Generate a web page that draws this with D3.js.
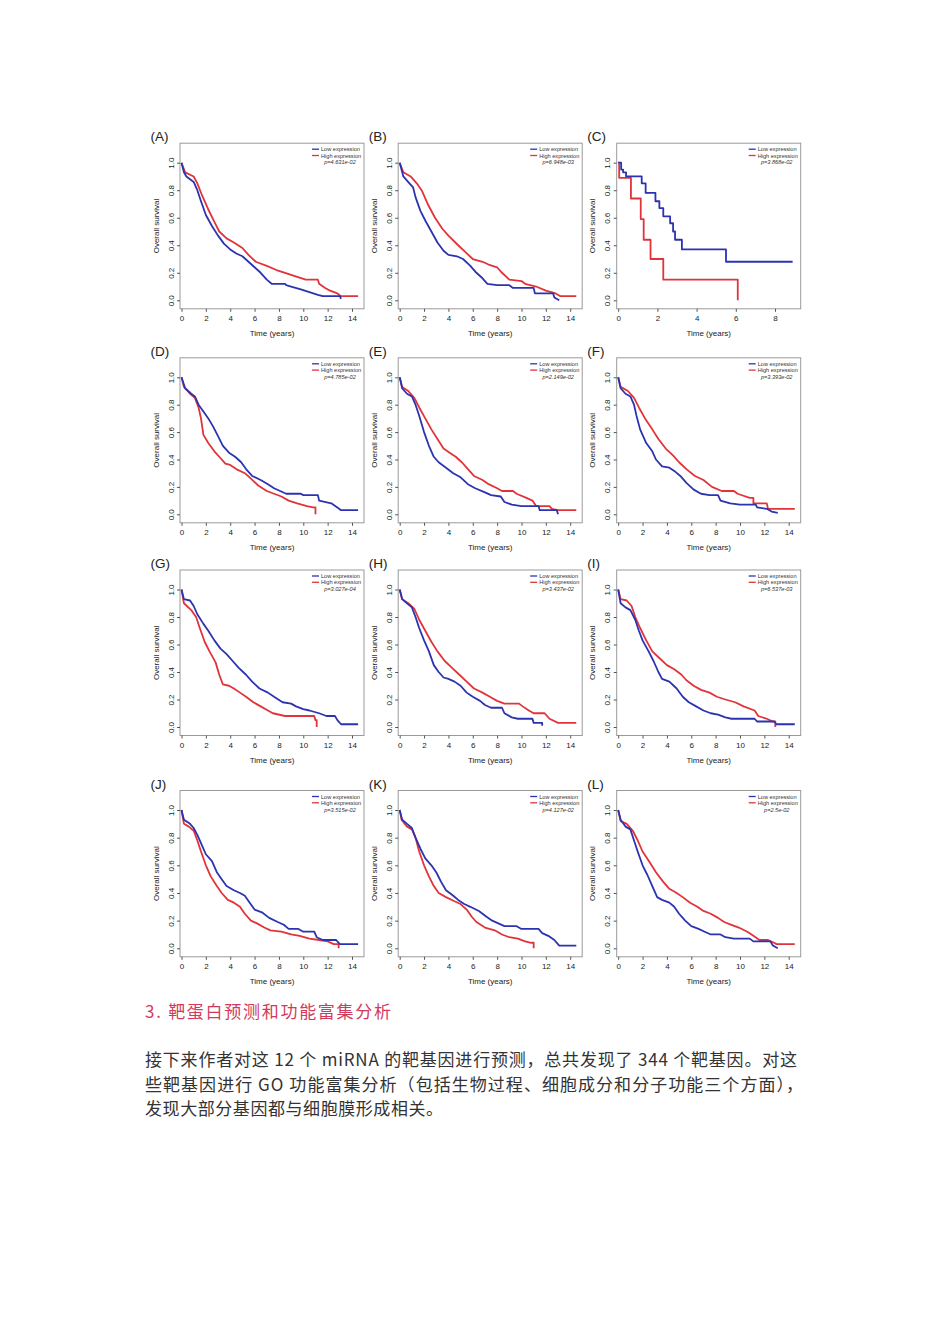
<!DOCTYPE html>
<html>
<head>
<meta charset="utf-8">
<script src="https://cdn.jsdelivr.net/npm/d3@7"></script>
<style>
  html, body { margin: 0; padding: 0; background: #fff; }
  svg { display: block; }
</style>
</head>
<body>
<svg id="chart" width="950" height="1344"></svg>
<script>
// ---------- DATA ----------
// Dense panels: vertices [time in years, survival].
// Panel C: step points [time, survival from that time].
const panelIds = ["A","B","C","D","E","F","G","H","I","J","K","L"];
const pValues = ["p=4.631e-02","p=6.948e-03","p=3.868e-02","p=4.785e-02","p=2.149e-02","p=3.393e-02",
                 "p=3.027e-04","p=3.437e-02","p=6.537e-03","p=3.515e-02","p=4.127e-02","p=2.5e-02"];
const xMaxYears = [14,14,8,14,14,14,14,14,14,14,14,14];
const stepPanels = ["C"];
const xTicks14 = [0,2,4,6,8,10,12,14];
const xTicks8 = [0,2,4,6,8];
const yTicks = [0.0,0.2,0.4,0.6,0.8,1.0];
const legendLabels = ["Low expression","High expression"];

const A_low  = [[0,1],[0.2,0.93],[0.4,0.9],[1,0.86],[1.3,0.8],[1.6,0.72],[2,0.62],[2.5,0.54],[3,0.47],[3.5,0.41],[4,0.37],[4.5,0.34],[5,0.32],[5.5,0.28],[6,0.24],[6.5,0.2],[7,0.15],[7.4,0.12],[8.5,0.12],[8.6,0.11],[9,0.1],[9.8,0.08],[10.5,0.06],[11.2,0.04],[11.6,0.03],[13,0.03],[13.1,0.01]];
const A_high = [[0,1],[0.3,0.93],[1,0.9],[1.3,0.85],[1.7,0.76],[2.2,0.66],[2.7,0.57],[3.1,0.5],[3.7,0.45],[4.3,0.42],[5,0.38],[5.5,0.33],[6.1,0.28],[7,0.25],[7.8,0.22],[8.5,0.2],[9.5,0.17],[10.2,0.15],[11.2,0.15],[11.3,0.12],[11.8,0.09],[12.2,0.07],[12.8,0.05],[13.1,0.03],[14.5,0.03]];

const B_low  = [[0,1],[0.3,0.9],[0.8,0.85],[1.1,0.82],[1.3,0.75],[1.7,0.65],[2.1,0.58],[2.6,0.5],[3.1,0.42],[3.6,0.36],[4,0.33],[4.7,0.32],[5.2,0.3],[5.8,0.25],[6.3,0.2],[6.8,0.16],[7.2,0.12],[8,0.11],[9,0.11],[9.3,0.09],[11,0.09],[11.1,0.05],[12.6,0.05],[12.7,0.02],[13.1,0.0]];
const B_high = [[0,1],[0.3,0.93],[0.9,0.9],[1.4,0.85],[1.8,0.8],[2.3,0.7],[2.9,0.6],[3.5,0.52],[4,0.47],[4.8,0.4],[5.4,0.35],[6,0.3],[6.8,0.28],[7.3,0.26],[8,0.24],[8.4,0.2],[9,0.15],[10,0.14],[10.3,0.12],[11.2,0.1],[12,0.07],[12.8,0.05],[13.2,0.03],[14.5,0.03]];

const C_low  = [[0,1],[0.15,0.95],[0.25,0.93],[0.4,0.9],[1.2,0.85],[1.4,0.78],[1.9,0.72],[2.1,0.67],[2.3,0.61],[2.65,0.56],[2.8,0.5],[2.9,0.44],[3.25,0.37],[5.5,0.28],[8.9,0.28]];
const C_high = [[0,1],[0.05,0.89],[0.65,0.74],[1.15,0.59],[1.3,0.44],[1.65,0.3],[2.3,0.15],[6.1,0.0]];

const D_low  = [[0,1],[0.3,0.92],[0.8,0.88],[1.1,0.86],[1.4,0.8],[1.8,0.75],[2.2,0.7],[2.6,0.64],[3,0.57],[3.4,0.5],[3.9,0.45],[4.4,0.42],[4.9,0.38],[5.3,0.33],[5.8,0.28],[6.5,0.25],[7.1,0.22],[7.6,0.19],[8.1,0.17],[8.6,0.15],[9.8,0.15],[10,0.14],[11.2,0.14],[11.3,0.1],[12.3,0.08],[12.8,0.05],[13.1,0.03],[14.5,0.03]];
const D_high = [[0,1],[0.2,0.93],[0.7,0.88],[1.1,0.85],[1.4,0.78],[1.6,0.7],[1.8,0.58],[2.2,0.52],[2.7,0.46],[3.1,0.42],[3.6,0.37],[4,0.36],[4.5,0.33],[5.2,0.3],[5.7,0.26],[6.3,0.21],[7,0.17],[7.6,0.15],[8.2,0.13],[8.8,0.1],[9.5,0.08],[10.3,0.06],[10.8,0.05],[11,0.05],[11,0.0]];

const E_low  = [[0,1],[0.2,0.92],[0.6,0.88],[1,0.86],[1.3,0.8],[1.6,0.72],[2,0.6],[2.4,0.5],[2.8,0.42],[3.2,0.38],[3.8,0.34],[4.4,0.3],[5,0.27],[5.6,0.22],[6.2,0.19],[7,0.16],[7.5,0.14],[8.3,0.13],[8.6,0.09],[9.2,0.07],[10,0.06],[11.4,0.06],[11.5,0.03],[12.9,0.03],[13,0.0]];
const E_high = [[0,1],[0.2,0.93],[0.7,0.9],[1.2,0.85],[1.6,0.78],[2.1,0.7],[2.6,0.62],[3.1,0.55],[3.6,0.48],[4.1,0.45],[4.6,0.42],[5.1,0.38],[5.6,0.33],[6.1,0.28],[6.8,0.25],[7.3,0.22],[8,0.19],[8.4,0.17],[9.3,0.17],[9.6,0.15],[10.4,0.12],[10.9,0.1],[11.2,0.06],[12.3,0.06],[12.5,0.04],[13,0.03],[14.5,0.03]];

const F_low  = [[0,1],[0.2,0.92],[0.6,0.88],[1,0.86],[1.3,0.8],[1.5,0.72],[1.8,0.62],[2.3,0.52],[2.8,0.46],[3.1,0.4],[3.6,0.35],[4.2,0.34],[4.7,0.31],[5.1,0.28],[5.6,0.23],[6.2,0.18],[6.8,0.15],[7.5,0.14],[8.2,0.14],[8.4,0.1],[9.2,0.08],[10,0.07],[11.3,0.07],[11.4,0.05],[12.2,0.04],[12.6,0.02],[13.1,0.01]];
const F_high = [[0,1],[0.2,0.93],[0.8,0.9],[1.3,0.85],[1.7,0.78],[2.2,0.7],[2.8,0.62],[3.3,0.55],[3.9,0.48],[4.5,0.43],[5,0.38],[5.6,0.33],[6.3,0.28],[7,0.25],[7.7,0.2],[8.5,0.17],[9.5,0.17],[9.8,0.15],[10.8,0.12],[11.1,0.12],[11.1,0.08],[12.2,0.08],[12.3,0.04],[14.5,0.04]];

const G_low  = [[0,1],[0.2,0.93],[0.7,0.92],[1,0.88],[1.3,0.82],[1.8,0.75],[2.2,0.7],[2.7,0.63],[3.2,0.57],[3.7,0.53],[4.2,0.48],[4.7,0.43],[5.3,0.38],[5.8,0.33],[6.4,0.28],[7.1,0.25],[7.6,0.22],[8.3,0.18],[9,0.17],[9.4,0.15],[10,0.13],[10.5,0.12],[11.3,0.1],[11.9,0.08],[12.6,0.08],[12.8,0.05],[13.1,0.02],[14.5,0.02]];
const G_high = [[0,1],[0.2,0.9],[0.8,0.85],[1.2,0.8],[1.5,0.72],[1.9,0.62],[2.3,0.55],[2.8,0.47],[3.1,0.38],[3.4,0.31],[3.9,0.3],[4.3,0.28],[4.8,0.25],[5.3,0.22],[5.9,0.18],[6.5,0.15],[7.1,0.12],[7.5,0.1],[8.5,0.08],[10.9,0.08],[11,0.05],[11.1,0.05],[11.1,0.0]];

const H_low  = [[0,1],[0.2,0.93],[0.6,0.9],[1,0.87],[1.3,0.8],[1.6,0.72],[2,0.63],[2.4,0.55],[2.8,0.45],[3.2,0.4],[3.6,0.36],[4,0.35],[4.5,0.33],[5,0.3],[5.5,0.25],[6,0.22],[6.6,0.19],[7,0.16],[7.5,0.14],[8.4,0.14],[8.6,0.1],[9.2,0.07],[9.7,0.06],[10.9,0.06],[11,0.03],[11.7,0.03],[11.7,0.01]];
const H_high = [[0,1],[0.2,0.93],[0.7,0.9],[1.2,0.86],[1.6,0.78],[2.1,0.7],[2.6,0.62],[3.1,0.55],[3.7,0.48],[4.3,0.43],[4.9,0.38],[5.5,0.33],[6.1,0.28],[6.8,0.25],[7.4,0.22],[8,0.19],[8.6,0.17],[9.8,0.17],[10.1,0.15],[10.6,0.12],[11,0.1],[11.9,0.1],[12.3,0.06],[13,0.03],[14.5,0.03]];

const I_low  = [[0,1],[0.2,0.9],[0.6,0.87],[1,0.85],[1.4,0.78],[1.7,0.7],[2,0.63],[2.5,0.55],[2.9,0.48],[3.3,0.4],[3.6,0.35],[4.2,0.33],[4.8,0.28],[5.3,0.22],[5.8,0.18],[6.4,0.15],[7,0.12],[7.6,0.1],[8.2,0.09],[8.8,0.07],[9.3,0.06],[11.2,0.06],[11.4,0.04],[12.8,0.04],[13,0.02],[14.5,0.02]];
const I_high = [[0,1],[0.2,0.93],[0.7,0.92],[1.1,0.88],[1.4,0.8],[1.8,0.72],[2.3,0.63],[2.8,0.55],[3.4,0.5],[4,0.45],[4.6,0.42],[5.2,0.38],[5.6,0.34],[6.2,0.3],[6.8,0.27],[7.5,0.25],[8.1,0.22],[8.8,0.2],[9.6,0.18],[10.3,0.15],[11.2,0.12],[11.5,0.08],[12.2,0.06],[12.7,0.04],[12.9,0.04],[12.9,0.0]];

const J_low  = [[0,1],[0.2,0.93],[0.7,0.9],[1,0.87],[1.3,0.82],[1.6,0.76],[2,0.68],[2.5,0.63],[2.9,0.55],[3.3,0.5],[3.7,0.45],[4.3,0.42],[4.8,0.4],[5.2,0.38],[5.6,0.33],[6,0.28],[6.6,0.26],[7.2,0.22],[7.9,0.19],[8.4,0.17],[8.8,0.14],[9.6,0.14],[10,0.12],[10.9,0.12],[11.1,0.08],[11.6,0.06],[12.7,0.06],[13,0.03],[14.5,0.03]];
const J_high = [[0,1],[0.2,0.9],[0.6,0.88],[1,0.85],[1.3,0.78],[1.6,0.7],[2,0.6],[2.4,0.52],[2.9,0.45],[3.3,0.4],[3.8,0.35],[4.3,0.33],[4.8,0.3],[5.2,0.25],[5.7,0.2],[6.2,0.18],[6.8,0.15],[7.3,0.13],[8.2,0.12],[9,0.1],[9.7,0.09],[10.5,0.07],[11.3,0.06],[12,0.05],[12.5,0.03],[12.9,0.03],[12.9,0.0]];

const K_low  = [[0,1],[0.2,0.93],[0.6,0.9],[1,0.87],[1.3,0.8],[1.7,0.72],[2.1,0.65],[2.6,0.6],[3,0.55],[3.4,0.48],[3.8,0.42],[4.4,0.38],[4.8,0.35],[5.3,0.32],[5.8,0.3],[6.5,0.27],[7.1,0.23],[7.6,0.2],[8.1,0.18],[8.6,0.16],[9.6,0.16],[10,0.14],[11.4,0.14],[11.7,0.11],[12.2,0.09],[12.7,0.06],[13.1,0.02],[14.5,0.02]];
const K_high = [[0,1],[0.15,0.93],[0.6,0.88],[1,0.86],[1.3,0.8],[1.6,0.7],[2,0.6],[2.4,0.52],[2.8,0.45],[3.2,0.4],[3.8,0.37],[4.5,0.34],[5,0.32],[5.5,0.28],[5.9,0.23],[6.3,0.19],[7,0.15],[7.8,0.13],[8.4,0.1],[9,0.08],[9.7,0.07],[10.3,0.05],[10.8,0.04],[11,0.04],[11,0.0]];

const L_low  = [[0,1],[0.2,0.93],[0.6,0.88],[1,0.86],[1.3,0.78],[1.6,0.7],[2,0.6],[2.4,0.53],[2.8,0.45],[3.2,0.37],[3.6,0.35],[4.2,0.33],[4.6,0.3],[5,0.25],[5.5,0.2],[6,0.16],[6.6,0.14],[7.1,0.12],[7.6,0.1],[8.4,0.1],[8.8,0.08],[9.5,0.07],[10.8,0.07],[11.1,0.05],[12.5,0.05],[12.7,0.02],[13.1,0.0]];
const L_high = [[0,1],[0.2,0.92],[0.7,0.9],[1.2,0.85],[1.6,0.78],[2,0.7],[2.6,0.62],[3.1,0.55],[3.7,0.48],[4.2,0.43],[4.8,0.4],[5.3,0.37],[5.9,0.33],[6.5,0.3],[7,0.27],[7.6,0.25],[8.2,0.22],[8.7,0.19],[9.3,0.17],[9.9,0.15],[10.6,0.12],[11.1,0.09],[11.6,0.06],[12.3,0.06],[12.8,0.04],[13,0.03],[14.5,0.03]];

const lowSeries  = [A_low,B_low,C_low,D_low,E_low,F_low,G_low,H_low,I_low,J_low,K_low,L_low];
const highSeries = [A_high,B_high,C_high,D_high,E_high,F_high,G_high,H_high,I_high,J_high,K_high,L_high];

const headingText = "3. 靶蛋白预测和功能富集分析";
const paragraphLines = [
  "接下来作者对这 12 个 miRNA 的靶基因进行预测，总共发现了 344 个靶基因。对这",
  "些靶基因进行 GO 功能富集分析（包括生物过程、细胞成分和分子功能三个方面），",
  "发现大部分基因都与细胞膜形成相关。"
];

// ---------- LAYOUT ----------
const colX0 = [181.5, 399.7, 618.2];
const rowY1 = [162.7, 377.3, 589.5, 810];
const rowY0 = [300.3, 514.3, 727.0, 948.3];
const LOW_COLOR = "#2c33b0", HIGH_COLOR = "#e0343a";
const FONT = "'Liberation Sans', Arial, sans-serif";

const svg = d3.select("#chart");

panelIds.forEach((id, i) => {
  const col = i % 3, row = Math.floor(i / 3);
  const x0 = colX0[col];
  const xmax = xMaxYears[i];
  const xWidth = xmax === 14 ? 170.5 : 156.8;
  const x = d3.scaleLinear().domain([0, xmax]).range([x0, x0 + xWidth]);
  const y = d3.scaleLinear().domain([0, 1]).range([rowY0[row], rowY1[row]]);
  const boxL = x0 - 1.5, boxR = x0 + 182.5, boxT = rowY1[row] - 19.5, boxB = rowY0[row] + 8.5;
  const g = svg.append("g");

  g.append("rect").attr("x", boxL).attr("y", boxT).attr("width", boxR - boxL).attr("height", boxB - boxT)
    .attr("fill", "none").attr("stroke", "#9a9a9a").attr("stroke-width", 1);

  const ticks = xmax === 14 ? xTicks14 : xTicks8;
  const xAxis = d3.axisBottom(x).tickValues(ticks).tickSize(3).tickPadding(4).tickFormat(d3.format("d"));
  const xa = g.append("g").attr("transform", `translate(0,${boxB})`).call(xAxis);
  xa.select(".domain").remove();
  xa.selectAll("line").attr("stroke", "#555");
  xa.selectAll("text").attr("font-family", FONT).attr("font-size", 8).attr("fill", "#222");

  const yAxis = d3.axisLeft(y).tickValues(yTicks).tickSize(3).tickPadding(2).tickFormat(d3.format(".1f"));
  const ya = g.append("g").attr("transform", `translate(${boxL},0)`).call(yAxis);
  ya.select(".domain").remove();
  ya.selectAll("line").attr("stroke", "#555");
  ya.selectAll("text").attr("font-family", FONT).attr("font-size", 8).attr("fill", "#222")
    .attr("text-anchor", "middle").attr("dy", null).attr("x", null)
    .attr("transform", "translate(-9,0) rotate(-90)").attr("dominant-baseline", "central");

  g.append("text").attr("x", (boxL + boxR) / 2).attr("y", rowY0[row] + 33)
    .attr("text-anchor", "middle").attr("dominant-baseline", "central")
    .attr("font-family", FONT).attr("font-size", 8).attr("fill", "#222").text("Time (years)");
  g.append("text").attr("transform", `translate(${boxL - 24},${(boxT + boxB) / 2}) rotate(-90)`)
    .attr("text-anchor", "middle").attr("dominant-baseline", "central")
    .attr("font-family", FONT).attr("font-size", 8).attr("fill", "#222").text("Overall survival");

  g.append("text").attr("x", x0 - 31).attr("y", rowY1[row] - 26)
    .attr("dominant-baseline", "central").attr("font-family", FONT).attr("font-size", 13.5)
    .attr("fill", "#222").text(`(${id})`);

  const isStep = stepPanels.includes(id);
  const line = d3.line().x(d => x(d[0])).y(d => y(d[1]))
    .curve(isStep ? d3.curveStepAfter : d3.curveLinear);
  [[highSeries[i], HIGH_COLOR], [lowSeries[i], LOW_COLOR]].forEach(([data, color]) => {
    g.append("path").datum(data).attr("d", line).attr("fill", "none")
      .attr("stroke", color).attr("stroke-width", 1.8).attr("stroke-linejoin", "round");
  });

  const leg = g.append("g");
  [LOW_COLOR, HIGH_COLOR].forEach((c, k) => {
    const ly = boxT + 6 + k * 6.3;
    leg.append("line").attr("x1", boxR - 52).attr("x2", boxR - 45).attr("y1", ly).attr("y2", ly)
      .attr("stroke", c).attr("stroke-width", 1.3);
    leg.append("text").attr("x", boxR - 43).attr("y", ly).attr("dominant-baseline", "central")
      .attr("font-family", FONT).attr("font-size", 5.6).attr("fill", "#333").text(legendLabels[k]);
  });
  leg.append("text").attr("x", boxR - 24).attr("y", boxT + 19).attr("text-anchor", "middle")
    .attr("dominant-baseline", "central").attr("font-family", FONT).attr("font-size", 5.6)
    .attr("font-style", "italic").attr("fill", "#333").text(pValues[i]);
});

// ---------- TEXT BELOW ----------
const CJK = "'Noto Sans CJK SC', 'Noto Sans', sans-serif";
svg.append("text").attr("x", 145).attr("y", 1010).attr("dominant-baseline", "central")
  .attr("font-family", CJK).attr("font-size", 17).attr("fill", "#d13a5c")
  .attr("textLength", 246).attr("lengthAdjust", "spacing").text(headingText);

const lineYs = [1058.5, 1083, 1107.5];
const lineWidths = [652, 658, 298];
paragraphLines.forEach((t, k) => {
  svg.append("text").attr("x", 145).attr("y", lineYs[k]).attr("dominant-baseline", "central")
    .attr("font-family", CJK).attr("font-size", 17).attr("fill", "#333")
    .attr("textLength", lineWidths[k]).attr("lengthAdjust", "spacing").text(t);
});
</script>
</body>
</html>
